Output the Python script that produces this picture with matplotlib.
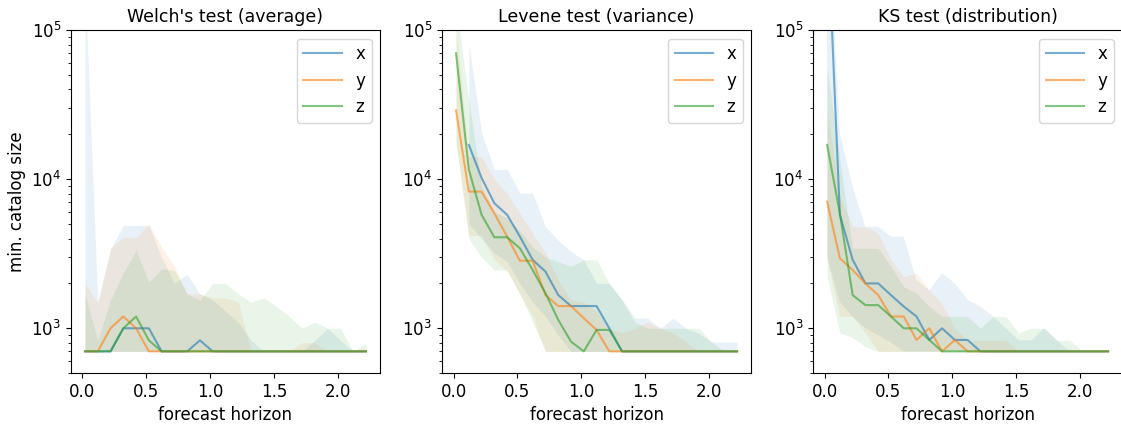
import numpy as np
import matplotlib.pyplot as plt

nan = np.nan

# horizonte de pronóstico (días)
horizon = [0.02, 0.12, 0.22, 0.32, 0.42, 0.52, 0.62, 0.72, 0.82, 0.92, 1.02, 1.12,
           1.22, 1.32, 1.42, 1.52, 1.62, 1.72, 1.82, 1.92, 2.02, 2.12, 2.22]

components = ['x', 'y', 'z']
titles = ["Welch's test (average)", "Levene test (variance)", "KS test (distribution)"]

# Welch
welch_med = {
    'x': [700, 700, 700, 1000, 1000, 1000, 700, 700, 700, 830, 700, 700, 700, 700, 700, 700, 700, 700, 700, 700, 700, 700, 700],
    'y': [700, 700, 1000, 1200, 1000, 700, 700, 700, 700, 700, 700, 700, 700, 700, 700, 700, 700, 700, 700, 700, 700, 700, 700],
    'z': [700, 700, 700, 1000, 1200, 830, 700, 700, 700, 700, 700, 700, 700, 700, 700, 700, 700, 700, 700, 700, 700, 700, 700],
}
welch_lo = {
    'x': [700] * 23,
    'y': [700] * 23,
    'z': [700] * 23,
}
welch_hi = {
    'x': [200000, 1500, 3400, 4900, 4900, 4900, 3000, 2000, 2300, 1700, 1550, 1300, 1100, 830, 700, 700, 700, 700, 830, 1000, 830, 700, 700],
    'y': [2000, 1470, 3440, 4080, 4080, 5000, 3500, 2600, 1700, 1700, 1600, 1600, 1500, 700, 700, 700, 700, 800, 800, 700, 700, 700, 700],
    'z': [1700, 830, 1550, 2340, 3340, 2040, 2500, 2450, 1700, 1540, 2000, 2000, 1700, 1500, 1600, 1400, 1200, 1000, 1100, 1000, 1000, 700, 800],
}

# Levene
levene_med = {
    'x': [nan, 17000, 10200, 6900, 5770, 4120, 2880, 2400, 1670, 1410, 1410, 1410, 1000, 700, 700, 700, 700, 700, 700, 700, 700, 700, 700],
    'y': [29000, 8260, 8260, 5900, 4120, 2840, 2840, 1670, 1410, 1410, 1170, 975, 700, 700, 700, 700, 700, 700, 700, 700, 700, 700, 700],
    'z': [70000, 11600, 5770, 4080, 4080, 3440, 2460, 1720, 1140, 814, 700, 975, 975, 700, 700, 700, 700, 700, 700, 700, 700, 700, 700],
}
levene_lo = {
    'x': [nan, 5000, 4000, 3200, 2800, 2000, 1500, 1200, 900, 700, 700, 700, 700, 700, 700, 700, 700, 700, 700, 700, 700, 700, 700],
    'y': [18000, 4200, 4200, 2900, 2400, 1700, 1200, 700, 700, 700, 700, 700, 700, 700, 700, 700, 700, 700, 700, 700, 700, 700, 700],
    'z': [18000, 4000, 3000, 2460, 2460, 1700, 1100, 700, 700, 700, 700, 700, 700, 700, 700, 700, 700, 700, 700, 700, 700, 700, 700],
}
levene_hi = {
    'x': [nan, 81000, 20400, 11600, 11600, 8060, 8060, 4800, 3900, 3270, 2880, 2000, 2000, 1550, 1170, 1170, 1000, 1170, 1000, 925, 810, 810, 810],
    'y': [100000, 14200, 14200, 10000, 8000, 5900, 4340, 3190, 2110, 1550, 1500, 1300, 1000, 930, 1000, 1100, 1000, 930, 810, 700, 700, 700, 700],
    'z': [150000, 34000, 9000, 6000, 5500, 4500, 3500, 3000, 2800, 2600, 2880, 2880, 2000, 1550, 1100, 1000, 1000, 1000, 1000, 1000, 810, 700, 700],
}

# KS
ks_med = {
    'x': [600000, 5770, 2880, 2000, 2000, 1670, 1400, 1200, 835, 1000, 835, 835, 700, 700, 700, 700, 700, 700, 700, 700, 700, 700, 700],
    'y': [7080, 2950, 2460, 2000, 1670, 1200, 1200, 835, 1000, 700, 835, 700, 700, 700, 700, 700, 700, 700, 700, 700, 700, 700, 700],
    'z': [17000, 5900, 1670, 1430, 1430, 1200, 1000, 1000, 835, 700, 700, 700, 700, 700, 700, 700, 700, 700, 700, 700, 700, 700, 700],
}
ks_lo = {
    'x': [3000, 1500, 1200, 1000, 900, 800, 700, 700, 700, 700, 700, 700, 700, 700, 700, 700, 700, 700, 700, 700, 700, 700, 700],
    'y': [2880, 1200, 1200, 930, 700, 700, 700, 700, 700, 700, 700, 700, 700, 700, 700, 700, 700, 700, 700, 700, 700, 700, 700],
    'z': [2220, 930, 870, 750, 700, 700, 700, 700, 700, 700, 700, 700, 700, 700, 700, 700, 700, 700, 700, 700, 700, 700, 700],
}
ks_hi = {
    'x': [900000, 20400, 8900, 4800, 4800, 4120, 4120, 2100, 1800, 2340, 2000, 1550, 1400, 1200, 1000, 830, 830, 1000, 830, 700, 700, 700, 700],
    'y': [29000, 7650, 4800, 4800, 4340, 2880, 2220, 2340, 1800, 1450, 1000, 830, 830, 830, 830, 700, 700, 700, 700, 700, 700, 700, 700],
    'z': [57000, 13500, 3440, 3440, 3440, 2600, 1900, 1720, 1400, 1200, 1200, 1200, 1000, 1200, 1200, 930, 1000, 1000, 830, 830, 700, 700, 700],
}

paneles = [(welch_med, welch_lo, welch_hi), (levene_med, levene_lo, levene_hi), (ks_med, ks_lo, ks_hi)]
colores = {'x': 'tab:blue', 'y': 'tab:orange', 'z': 'tab:green'}

plt.rcParams['font.size'] = 12

fig = plt.figure(figsize=(11.21, 4.25), dpi=100)
lefts = [0.0633, 0.3943, 0.7253]
for k, (med, lo, hi) in enumerate(paneles):
    ax = fig.add_axes([lefts[k], 0.122, 0.2757, 0.807])
    for c in components:
        ax.fill_between(horizon, lo[c], hi[c], color=colores[c], alpha=0.1, linewidth=0)
        ax.plot(horizon, med[c], color=colores[c], alpha=0.6, label=c)
    ax.set_yscale('log')
    ax.set_ylim(500, 1e5)
    ax.set_xticks([0.0, 0.5, 1.0, 1.5, 2.0])
    ax.set_title(titles[k], fontsize=12.5)
    ax.set_xlabel('forecast horizon')
    if k == 0:
        ax.set_ylabel('min. catalog size')
    ax.legend(loc='upper right', handlelength=2.3)

plt.savefig('out.png', dpi=100)
